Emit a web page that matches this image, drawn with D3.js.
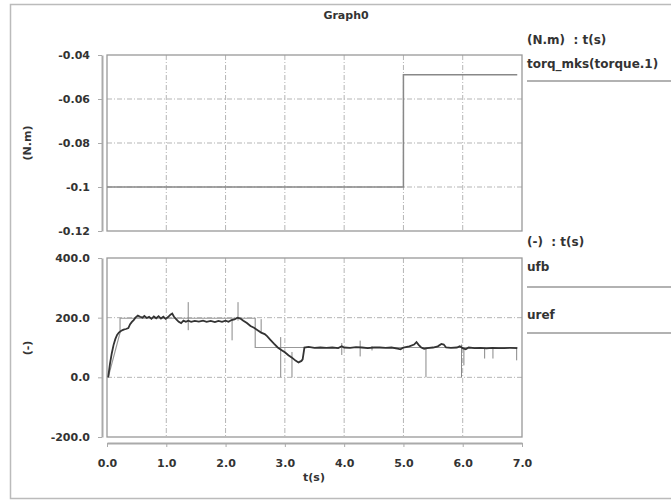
<!DOCTYPE html>
<html lang="en">
<head>
<meta charset="UTF-8">
<title>Graph0</title>
<script src="https://d3js.org/d3.v7.min.js"></script>
<style>
    body { margin: 0; background: #fff; }
    text { font-family: "DejaVu Sans", sans-serif; font-size: 11px; font-weight: bold; fill: #333; }
    .legend { font-size: 12px; }
    .axis path, .axis line { stroke: #aaa; }
    .grid { stroke: #b5b5b5; stroke-width: 1; stroke-dasharray: 5,2,1,2; }
</style>
</head>
<body>
<script>

    // torque (top panel)
    var torqueT = [0, 5, 5, 6.92];
    var torqueV = [-0.1, -0.1, -0.049, -0.049];

    // uref (bottom panel)
    var urefT = [0.02, 0.22, 0.22, 2.5, 2.5, 6.92];
    var urefV = [0, 150, 198, 198, 100, 100];

    // ufb (bottom panel)
    var ufbT = [0.02, 0.05, 0.08, 0.11, 0.14, 0.17, 0.20, 0.24, 0.28, 0.32, 0.36, 0.39, 0.42, 0.45, 0.48,
        0.52, 0.56, 0.60, 0.63, 0.67, 0.71, 0.75, 0.79, 0.83, 0.87, 0.91, 0.95, 0.99, 1.03, 1.07, 1.10,
        1.13, 1.17, 1.21, 1.25, 1.29, 1.33, 1.37, 1.42, 1.48, 1.55, 1.62, 1.68, 1.75, 1.82, 1.88, 1.94,
        2.00, 2.05, 2.10, 2.15, 2.20, 2.25, 2.30, 2.36, 2.42, 2.48, 2.54, 2.60, 2.66, 2.70, 2.76, 2.82,
        2.88, 2.94, 3.00, 3.06, 3.12, 3.18, 3.23, 3.28, 3.30, 3.33, 3.40, 3.50, 3.60, 3.70, 3.80, 3.90,
        3.96, 4.00, 4.10, 4.20, 4.30, 4.40, 4.50, 4.60, 4.70, 4.80, 4.90, 4.95, 5.00, 5.10, 5.18, 5.22,
        5.26, 5.30, 5.35, 5.40, 5.50, 5.58, 5.64, 5.68, 5.72, 5.80, 5.90, 5.95, 6.00, 6.05, 6.10, 6.20,
        6.30, 6.40, 6.50, 6.60, 6.70, 6.80, 6.92];
    var ufbV = [0, 45, 80, 108, 128, 142, 150, 156, 160, 162, 165, 178, 186, 192, 200,
        207, 203, 200, 206, 199, 203, 196, 204, 198, 205, 197, 203, 196, 202, 210, 214,
        203, 194, 186, 182, 190, 186, 190, 186, 189, 187, 190, 186, 189, 185, 189, 186,
        190, 186, 192, 194, 200, 197, 190, 182, 172, 166, 158, 150, 145, 138, 125, 112,
        100, 92, 84, 74, 66, 56, 50, 55, 60, 100, 102, 99, 100, 99, 100, 98,
        104, 100, 99, 101, 100, 98, 100, 100, 99, 100, 96, 94, 100, 104, 110, 118,
        108, 100, 96, 98, 100, 104, 112, 110, 100, 99, 100, 104, 98, 94, 100, 98,
        99, 97, 99, 98, 98, 99, 98];

    // short spikes on ufb: time, low, high
    var spikeT = [1.37, 2.11, 2.21, 2.60, 2.93, 3.12, 3.96, 4.27, 4.47, 5.38, 5.98, 6.02, 6.37, 6.51, 6.91];
    var spikeLo = [158, 124, 190, 150, 0, 0, 75, 70, 90, 0, 0, 40, 63, 63, 57];
    var spikeHi = [252, 195, 252, 195, 135, 85, 115, 123, 105, 100, 110, 100, 100, 100, 100];

    var timeTicks = [0, 1, 2, 3, 4, 5, 6, 7];
    var torqueTicks = [-0.12, -0.1, -0.08, -0.06, -0.04];
    var torqueLabels = ["-0.12", "-0.1", "-0.08", "-0.06", "-0.04"];
    var uTicks = [-200, 0, 200, 400];
    var uLabels = ["-200.0", "0.0", "200.0", "400.0"];

    var width = 671;
    var height = 502;

    var svg = d3.select("body").append("svg")
        .attr("width", width)
        .attr("height", height);

    // outer frame
    svg.append("rect")
        .attr("x", 10.5).attr("y", 4.5)
        .attr("width", 672).attr("height", 494)
        .attr("fill", "none")
        .attr("stroke", "#bbb")
        .attr("stroke-width", 1.5);

    svg.append("text")
        .attr("x", 346).attr("y", 19)
        .attr("text-anchor", "middle")
        .text("Graph0");

    var x = d3.scaleLinear().domain([0, 7]).range([107, 522]);
    var yTop = d3.scaleLinear().domain([-0.12, -0.04]).range([231, 55]);
    var yBot = d3.scaleLinear().domain([-200, 400]).range([437, 258]);

    function panel(y, ticks, labels, gridTicks, title, titleY) {
        var r = y.range();

        // grid
        svg.append("g").selectAll("line")
            .data(timeTicks.slice(1, -1))
            .enter().append("line")
            .attr("class", "grid")
            .attr("x1", function (d) { return x(d); })
            .attr("x2", function (d) { return x(d); })
            .attr("y1", r[1]).attr("y2", r[0]);
        svg.append("g").selectAll("line")
            .data(gridTicks)
            .enter().append("line")
            .attr("class", "grid")
            .attr("x1", x(0)).attr("x2", x(7))
            .attr("y1", function (d) { return y(d); })
            .attr("y2", function (d) { return y(d); });

        // plot box
        svg.append("rect")
            .attr("x", x(0)).attr("y", r[1])
            .attr("width", x(7) - x(0)).attr("height", r[0] - r[1])
            .attr("fill", "none")
            .attr("stroke", "#999")
            .attr("stroke-width", 1.3);

        var axis = d3.axisLeft(y)
            .tickValues(ticks)
            .tickSize(4)
            .tickSizeOuter(0)
            .tickPadding(8)
            .tickFormat(function (d, i) { return labels[i]; });

        var g = svg.append("g")
            .attr("class", "axis")
            .attr("transform", "translate(102,0)")
            .call(axis);
        g.select(".domain").attr("stroke", "#bbb").attr("stroke-width", 2);
        g.selectAll("text").attr("fill", "#333");

        svg.append("text")
            .attr("transform", "translate(31," + titleY + ") rotate(-90)")
            .attr("text-anchor", "middle")
            .text(title);
    }

    panel(yTop, torqueTicks, torqueLabels, [-0.1, -0.08, -0.06], "(N.m)", 143);
    panel(yBot, uTicks, uLabels, [0, 200], "(-)", 348);

    // time axis under the lower panel
    var xAxis = d3.axisBottom(x)
        .tickValues(timeTicks)
        .tickSize(4)
        .tickSizeOuter(0)
        .tickPadding(12)
        .tickFormat(d3.format(".1f"));
    var gx = svg.append("g")
        .attr("class", "axis")
        .attr("transform", "translate(0,443)")
        .call(xAxis);
    gx.select(".domain").attr("stroke", "#bbb").attr("stroke-width", 2);
    gx.selectAll("text").attr("fill", "#333");

    svg.append("text")
        .attr("x", 314).attr("y", 481)
        .attr("text-anchor", "middle")
        .text("t(s)");

    // series
    var line = d3.line();

    svg.append("path")
        .attr("d", line(torqueT.map(function (t, i) { return [x(t), yTop(torqueV[i])]; })))
        .attr("fill", "none")
        .attr("stroke", "#888")
        .attr("stroke-width", 1.5);

    svg.append("path")
        .attr("d", line(urefT.map(function (t, i) { return [x(t), yBot(urefV[i])]; })))
        .attr("fill", "none")
        .attr("stroke", "#999")
        .attr("stroke-width", 1.2);

    svg.append("g").selectAll("line")
        .data(spikeT)
        .enter().append("line")
        .attr("x1", function (d) { return x(d); })
        .attr("x2", function (d) { return x(d); })
        .attr("y1", function (d, i) { return yBot(spikeLo[i]); })
        .attr("y2", function (d, i) { return yBot(spikeHi[i]); })
        .attr("stroke", "#888")
        .attr("stroke-width", 1);

    svg.append("path")
        .attr("d", line(ufbT.map(function (t, i) { return [x(t), yBot(ufbV[i])]; })))
        .attr("fill", "none")
        .attr("stroke", "#333")
        .attr("stroke-width", 1.8);

    // legends
    var legends = [
        { head: "(N.m)  : t(s)", headY: 44, names: ["torq_mks(torque.1)"], nameY: [68], lineY: [81] },
        { head: "(-)  : t(s)", headY: 246, names: ["ufb", "uref"], nameY: [271, 319], lineY: [287, 333] }
    ];

    legends.forEach(function (lg) {
        svg.append("text").attr("class", "legend")
            .attr("x", 527).attr("y", lg.headY)
            .attr("xml:space", "preserve")
            .text(lg.head);
        lg.names.forEach(function (n, i) {
            svg.append("text").attr("class", "legend")
                .attr("x", 527).attr("y", lg.nameY[i]).text(n);
            svg.append("line")
                .attr("x1", 527).attr("x2", 680)
                .attr("y1", lg.lineY[i]).attr("y2", lg.lineY[i])
                .attr("stroke", "#999")
                .attr("stroke-width", 1.5);
        });
    });

</script>
</body>
</html>
